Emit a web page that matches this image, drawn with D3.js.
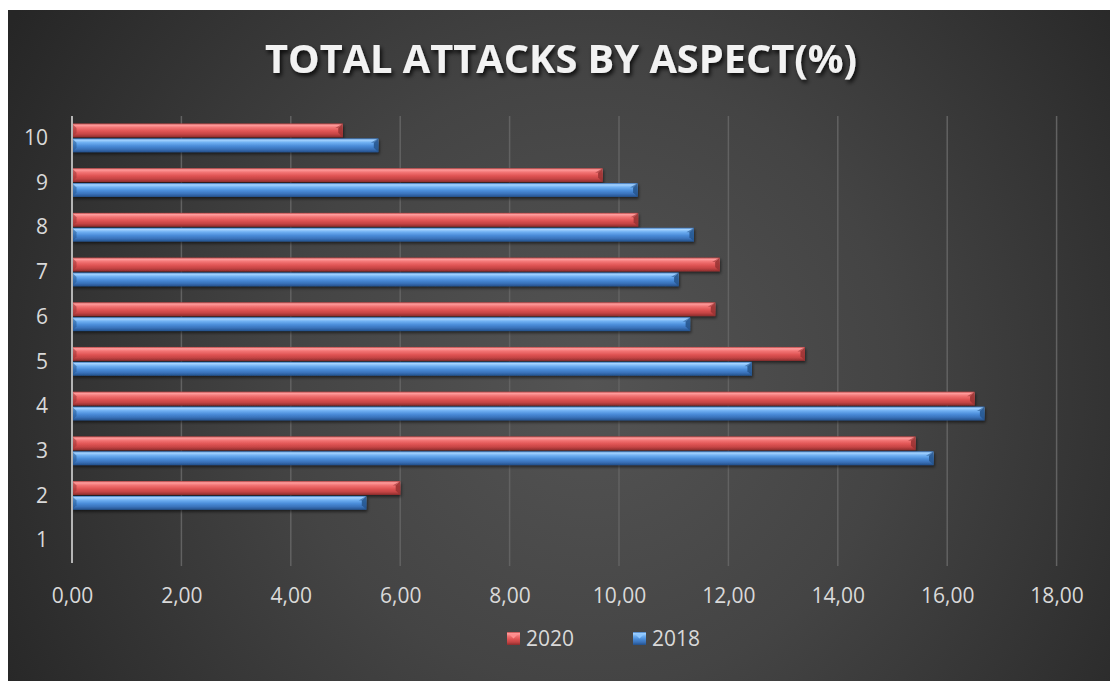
<!DOCTYPE html>
<html>
<head>
<meta charset="utf-8">
<script src="https://cdn.jsdelivr.net/npm/d3@7"></script>
<style>
  html, body { margin: 0; padding: 0; background: #ffffff; }
  svg { display: block; }
  text { font-family: "Open Sans", "Noto Sans", sans-serif; }
</style>
</head>
<body>
<svg id="chart" width="1110" height="681"></svg>
<script>
// Aspect categories, listed bottom to top
const categories = ["1", "2", "3", "4", "5", "6", "7", "8", "9", "10"];
const seriesNames = ["2020", "2018"];
const values2020 = [0, 6.00, 15.42, 16.50, 13.40, 11.76, 11.84, 10.35, 9.70, 4.95];
const values2018 = [0, 5.38, 15.75, 16.68, 12.43, 11.30, 11.09, 11.37, 10.34, 5.60];
const xTicks = [0, 2, 4, 6, 8, 10, 12, 14, 16, 18];
const titleText = "TOTAL ATTACKS BY ASPECT(%)";

const seriesValues = { "2020": values2020, "2018": values2018 };
const palette = {
  "2020": { stops: ["#b84444", "#ff9d9d", "#f27474", "#e05454", "#c44444", "#8c2c2c"], facet: "#9a3434", light: "#ff8d8d" },
  "2018": { stops: ["#3a74bb", "#a6d4ff", "#70b0f2", "#4a8cd9", "#3a72ba", "#23508a"], facet: "#27578f", light: "#8cc6ff" }
};

const svg = d3.select("#chart");
const W = 1110, H = 681;
const defs = svg.append("defs");

// chart area background: dark radial glow
const bg = defs.append("radialGradient").attr("id", "bgGrad")
  .attr("gradientUnits", "userSpaceOnUse")
  .attr("cx", 590).attr("cy", 380).attr("r", 680);
bg.append("stop").attr("offset", "0%").attr("stop-color", "#545454");
bg.append("stop").attr("offset", "45%").attr("stop-color", "#444444");
bg.append("stop").attr("offset", "100%").attr("stop-color", "#262626");

// bevelled bar gradients
seriesNames.forEach(name => {
  const g = defs.append("linearGradient").attr("id", "bar-" + name)
    .attr("x1", 0).attr("y1", 0).attr("x2", 0).attr("y2", 1);
  const offs = [0, 0.12, 0.3, 0.55, 0.78, 1];
  palette[name].stops.forEach((c, i) => g.append("stop").attr("offset", offs[i]).attr("stop-color", c));
});

const shadow = defs.append("filter").attr("id", "barShadow")
  .attr("x", "-5%").attr("y", "-40%").attr("width", "110%").attr("height", "200%");
shadow.append("feDropShadow").attr("dx", 1).attr("dy", 2).attr("stdDeviation", 1.4)
  .attr("flood-color", "#000").attr("flood-opacity", 0.55);

const titleShadow = defs.append("filter").attr("id", "titleShadow")
  .attr("x", "-10%").attr("y", "-30%").attr("width", "120%").attr("height", "160%");
titleShadow.append("feDropShadow").attr("dx", 2).attr("dy", 3).attr("stdDeviation", 2)
  .attr("flood-color", "#000").attr("flood-opacity", 0.8);

svg.append("rect").attr("width", W).attr("height", H).attr("fill", "#ffffff");
svg.append("rect").attr("x", 8).attr("y", 10).attr("width", W - 8).attr("height", H - 10)
  .attr("fill", "url(#bgGrad)");

// title
const title = svg.append("text")
  .attr("x", 561).attr("y", 73)
  .attr("text-anchor", "middle")
  .attr("font-size", 40).attr("font-weight", 700)
  .attr("fill", "#f2f2f2")
  .attr("filter", "url(#titleShadow)")
  .text(titleText);
title.attr("textLength", 592).attr("lengthAdjust", "spacingAndGlyphs");

// scales
const plotTop = 116, plotBottom = 563;
const x = d3.scaleLinear().domain([0, 18]).range([72, 72 + 18 * 54.7]);
const y = d3.scaleBand().domain(categories.slice().reverse())
  .range([plotTop, plotBottom]).paddingInner(1 / 3).paddingOuter(1 / 6);
const ySub = d3.scaleBand().domain(seriesNames).range([0, y.bandwidth()]);

// vertical gridlines
svg.append("g").selectAll("line").data(xTicks.filter(t => t > 0)).join("line")
  .attr("x1", d => x(d)).attr("x2", d => x(d))
  .attr("y1", plotTop).attr("y2", plotBottom + 3)
  .attr("stroke", "#626262").attr("stroke-width", 1.5);

// x axis labels
const xAxis = d3.axisBottom(x).tickValues(xTicks).tickSize(0).tickPadding(0)
  .tickFormat(d => d3.format(".2f")(d).replace(".", ","));
const gx = svg.append("g").attr("transform", `translate(0,${plotBottom})`).call(xAxis);
gx.select(".domain").remove();
gx.selectAll("text").attr("font-size", 21).attr("fill", "#d9d9d9")
  .attr("dy", null).attr("y", 40)
  .attr("font-family", "'Open Sans', 'Noto Sans', sans-serif");

// y axis labels
const yAxis = d3.axisLeft(y).tickSize(0).tickPadding(0);
const gy = svg.append("g").attr("transform", "translate(48,0)").call(yAxis);
gy.select(".domain").remove();
gy.selectAll("text").attr("font-size", 21).attr("fill", "#d9d9d9")
  .attr("font-family", "'Open Sans', 'Noto Sans', sans-serif");

// bars
const rows = [];
categories.forEach((c, i) => {
  seriesNames.forEach(s => rows.push({ cat: c, series: s, value: seriesValues[s][i] }));
});

const barG = svg.append("g").selectAll("g").data(rows.filter(d => d.value > 0)).join("g")
  .attr("filter", "url(#barShadow)");

barG.each(function (d) {
  const g = d3.select(this);
  const x0 = x(0), x1 = x(d.value);
  const y0 = y(d.cat) + ySub(d.series);
  const h = ySub.bandwidth() - 1;
  const b = 4.5;
  const p = palette[d.series];
  g.append("rect").attr("x", x0).attr("y", y0).attr("width", x1 - x0).attr("height", h)
    .attr("fill", `url(#bar-${d.series})`);
  // left bevel facet
  g.append("polygon")
    .attr("points", [[x0, y0], [x0 + b, y0 + b], [x0 + b, y0 + h - b], [x0, y0 + h]].join(" "))
    .attr("fill", p.facet).attr("opacity", 0.55);
  // right bevel facets
  g.append("polygon")
    .attr("points", [[x1 - b, y0 + b], [x1, y0], [x1, y0 + h], [x1 - b, y0 + h - b]].join(" "))
    .attr("fill", p.facet).attr("opacity", 0.9);
  g.append("polygon")
    .attr("points", [[x1 - b - 3, y0 + b], [x1, y0], [x1 - b, y0 + b]].join(" "))
    .attr("fill", p.facet).attr("opacity", 0.6);
});

// zero axis line
svg.append("line")
  .attr("x1", x(0)).attr("x2", x(0)).attr("y1", plotTop).attr("y2", plotBottom)
  .attr("stroke", "#b5b5b5").attr("stroke-width", 2);

// legend
const legend = svg.append("g").selectAll("g").data(seriesNames).join("g")
  .attr("transform", (d, i) => `translate(${507 + i * 126},632)`);
legend.append("rect").attr("width", 13).attr("height", 13)
  .attr("fill", d => `url(#bar-${d})`);
legend.append("polygon")
  .attr("points", "1.5,1.5 11.5,1.5 6.5,6.5")
  .attr("fill", d => palette[d].light);
legend.append("text").attr("x", 19).attr("y", 13.5).attr("font-size", 21)
  .attr("fill", "#d9d9d9").text(d => d);
</script>
</body>
</html>
